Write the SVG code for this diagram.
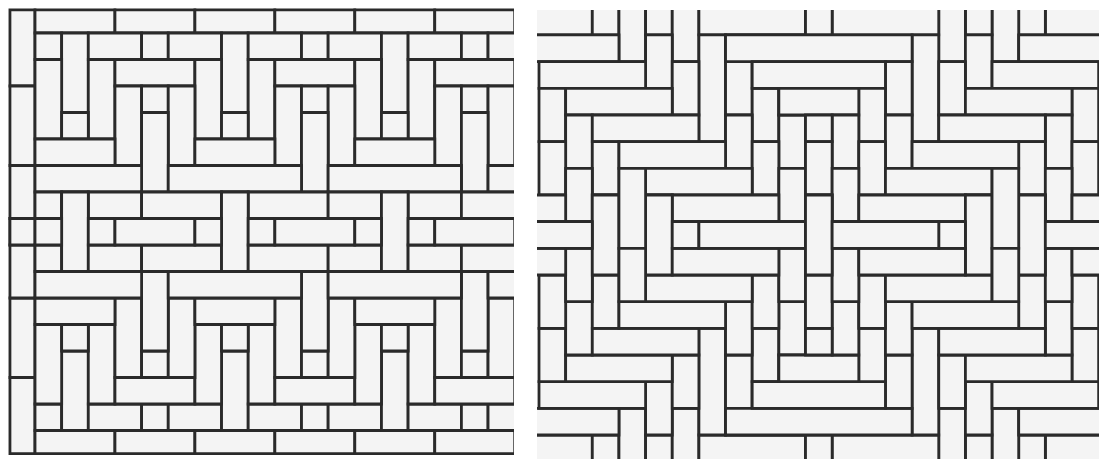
<svg xmlns="http://www.w3.org/2000/svg" width="1099" height="462" viewBox="0 0 1099 462">
<style>
rect{fill:#f4f4f4;stroke:#2a2a2a;stroke-width:2.8;vector-effect:non-scaling-stroke}
</style>
<defs>
<clipPath id="clipL"><rect x="0" y="0" width="514" height="462" style="stroke:none"/></clipPath>
<clipPath id="clipR"><rect x="537" y="10" width="562" height="449" style="stroke:none"/></clipPath>
<g id="lt">
<rect x="0.06" y="0.13" width="0.94" height="2.87"/>
<rect x="0.06" y="3" width="0.94" height="3"/>
<rect x="0.06" y="6" width="0.94" height="2"/>
<rect x="0.06" y="8" width="0.94" height="1"/>
<rect x="1" y="0.13" width="3" height="0.87"/>
<rect x="4" y="0.13" width="3" height="0.87"/>
<rect x="7" y="0.13" width="3" height="0.87"/>
<rect x="10" y="0.13" width="3" height="0.87"/>
<rect x="13" y="0.13" width="3" height="0.87"/>
<rect x="16" y="0.13" width="3" height="0.87"/>
<rect x="1" y="1" width="1" height="1"/>
<rect x="2" y="1" width="1" height="3"/>
<rect x="3" y="1" width="2" height="1"/>
<rect x="5" y="1" width="1" height="1"/>
<rect x="6" y="1" width="2" height="1"/>
<rect x="8" y="1" width="1" height="3"/>
<rect x="9" y="1" width="2" height="1"/>
<rect x="11" y="1" width="1" height="1"/>
<rect x="12" y="1" width="2" height="1"/>
<rect x="14" y="1" width="1" height="3"/>
<rect x="15" y="1" width="2" height="1"/>
<rect x="17" y="1" width="1" height="1"/>
<rect x="18" y="1" width="2" height="1"/>
<rect x="1" y="2" width="1" height="3"/>
<rect x="3" y="2" width="1" height="3"/>
<rect x="4" y="2" width="3" height="1"/>
<rect x="7" y="2" width="1" height="3"/>
<rect x="9" y="2" width="1" height="3"/>
<rect x="10" y="2" width="3" height="1"/>
<rect x="13" y="2" width="1" height="3"/>
<rect x="15" y="2" width="1" height="3"/>
<rect x="16" y="2" width="3" height="1"/>
<rect x="4" y="3" width="1" height="3"/>
<rect x="5" y="3" width="1" height="1"/>
<rect x="6" y="3" width="1" height="3"/>
<rect x="10" y="3" width="1" height="3"/>
<rect x="11" y="3" width="1" height="1"/>
<rect x="12" y="3" width="1" height="3"/>
<rect x="16" y="3" width="1" height="3"/>
<rect x="17" y="3" width="1" height="1"/>
<rect x="18" y="3" width="1" height="3"/>
<rect x="2" y="4" width="1" height="1"/>
<rect x="5" y="4" width="1" height="3"/>
<rect x="8" y="4" width="1" height="1"/>
<rect x="11" y="4" width="1" height="3"/>
<rect x="14" y="4" width="1" height="1"/>
<rect x="17" y="4" width="1" height="3"/>
<rect x="1" y="5" width="3" height="1"/>
<rect x="7" y="5" width="3" height="1"/>
<rect x="13" y="5" width="3" height="1"/>
<rect x="1" y="6" width="4" height="1"/>
<rect x="6" y="6" width="5" height="1"/>
<rect x="12" y="6" width="5" height="1"/>
<rect x="18" y="6" width="5" height="1"/>
<rect x="1" y="7" width="1" height="1"/>
<rect x="2" y="7" width="1" height="3"/>
<rect x="3" y="7" width="2" height="1"/>
<rect x="5" y="7" width="3" height="1"/>
<rect x="8" y="7" width="1" height="3"/>
<rect x="9" y="7" width="3" height="1"/>
<rect x="12" y="7" width="2" height="1"/>
<rect x="14" y="7" width="1" height="3"/>
<rect x="15" y="7" width="2" height="1"/>
<rect x="17" y="7" width="3" height="1"/>
<rect x="1" y="8" width="1" height="1"/>
<rect x="3" y="8" width="1" height="1"/>
<rect x="4" y="8" width="3" height="1"/>
<rect x="7" y="8" width="1" height="1"/>
<rect x="9" y="8" width="1" height="1"/>
<rect x="10" y="8" width="3" height="1"/>
<rect x="13" y="8" width="1" height="1"/>
<rect x="15" y="8" width="1" height="1"/>
<rect x="16" y="8" width="3" height="1"/>
</g>
<g id="rq">
<rect x="-1" y="-1" width="3" height="2"/>
<rect x="2" y="-1" width="1" height="2"/>
<rect x="3" y="-1" width="1" height="3"/>
<rect x="4" y="-1" width="1" height="2"/>
<rect x="5" y="-1" width="1" height="3"/>
<rect x="6" y="-1" width="4" height="2"/>
<rect x="10" y="-1" width="1" height="2"/>
<rect x="-1" y="1" width="4" height="1"/>
<rect x="4" y="1" width="1" height="2"/>
<rect x="6" y="1" width="1" height="4"/>
<rect x="7" y="1" width="7" height="1"/>
<rect x="0" y="2" width="4" height="1"/>
<rect x="5" y="2" width="1" height="2"/>
<rect x="7" y="2" width="1" height="2"/>
<rect x="8" y="2" width="5" height="1"/>
<rect x="0" y="3" width="1" height="2"/>
<rect x="1" y="3" width="4" height="1"/>
<rect x="8" y="3" width="1" height="2"/>
<rect x="9" y="3" width="3" height="1"/>
<rect x="1" y="4" width="1" height="2"/>
<rect x="2" y="4" width="4" height="1"/>
<rect x="7" y="4" width="1" height="2"/>
<rect x="9" y="4" width="1" height="2"/>
<rect x="10" y="4" width="1" height="1"/>
<rect x="0" y="5" width="1" height="2"/>
<rect x="2" y="5" width="1" height="2"/>
<rect x="3" y="5" width="4" height="1"/>
<rect x="8" y="5" width="1" height="2"/>
<rect x="10" y="5" width="1" height="2"/>
<rect x="1" y="6" width="1" height="2"/>
<rect x="4" y="6" width="4" height="1"/>
<rect x="9" y="6" width="1" height="2"/>
<rect x="-1" y="7" width="2" height="1"/>
<rect x="2" y="7" width="1" height="3"/>
<rect x="4" y="7" width="1" height="3"/>
<rect x="5" y="7" width="4" height="1"/>
<rect x="10" y="7" width="1" height="3"/>
<rect x="-1" y="8" width="3" height="1"/>
<rect x="5" y="8" width="1" height="1"/>
<rect x="6" y="8" width="4" height="1"/>
</g>
<g id="rl">
<use href="#rq"/>
<use href="#rq" transform="matrix(1 0 0 -1 0 17)"/>
<rect x="3" y="6" width="1" height="3"/>
<rect x="3" y="9" width="1" height="2"/>
</g>
</defs>
<rect x="0" y="0" width="1099" height="462" style="fill:#fff;stroke:none"/>
<g id="left-panel" clip-path="url(#clipL)">
<g transform="translate(8.35 6.5) scale(26.65 26.5)">
<use href="#lt"/>
<use href="#lt" transform="matrix(1 0 0 -1 0 17)"/>
</g>
</g>
<g id="right-panel" clip-path="url(#clipR)">
<g transform="translate(539 8.3) scale(26.65 26.67)">
<use href="#rl"/>
<use href="#rl" transform="matrix(-1 0 0 1 21 0)"/>
</g>
</g>
</svg>
